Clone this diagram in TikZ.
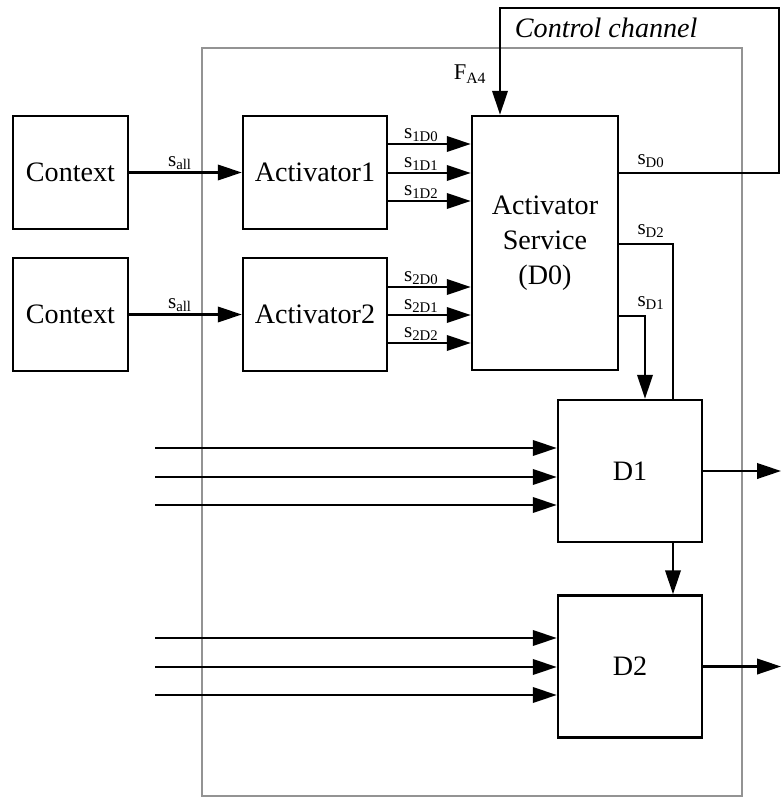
\documentclass[tikz,border=0pt]{standalone}
\usepackage{fontspec}
\setmainfont{Liberation Serif}
\usetikzlibrary{arrows.meta}

\begin{document}
\begin{tikzpicture}[x=0.025cm,y=-0.025cm,
  blk/.style={draw,line width=1.8pt,inner sep=0pt,align=center,font=\fontsize{20}{25}\selectfont},
  sig/.style={line width=1.6pt,-{Triangle[length=17pt,width=11pt]}},
  wire/.style={line width=1.6pt},
  lbl/.style={inner sep=1pt,font=\fontsize{15}{18}\selectfont}]
  \useasboundingbox (0,0) rectangle (781,800);
  \draw[gray!85,line width=1.4pt] (202,48) rectangle (742,796);
  \node[blk,minimum width=2.875cm,minimum height=2.825cm] (ctx1) at (70.5,172.5) {Context};
  \node[blk,minimum width=2.875cm,minimum height=2.825cm] (ctx2) at (70.5,314.5) {Context};
  \node[blk,minimum width=3.6cm,minimum height=2.825cm] (act1) at (315,172.5) {Activator1};
  \node[blk,minimum width=3.6cm,minimum height=2.825cm] (act2) at (315,314.5) {Activator2};
  \node[blk,minimum width=3.65cm,minimum height=6.35cm] (svc) at (545,243) {Activator\\Service\\(D0)};
  \node[blk,minimum width=3.6cm,minimum height=3.55cm] (d1) at (630,471) {D1};
  \node[blk,minimum width=3.6cm,minimum height=3.55cm] (d2) at (630,666.5) {D2};
  \node[anchor=west,font=\fontsize{20}{24}\selectfont\itshape] (ctl) at (510,28) {Control channel};
  \node[font=\fontsize{16}{19}\selectfont] (fa4) at (470,74) {F\textsubscript{A4}};
  \draw[sig] (ctx1) -- node[lbl,above,pos=0.45] {s\textsubscript{all}} (act1);
  \draw[sig] (ctx2) -- node[lbl,above,pos=0.45] {s\textsubscript{all}} (act2);
  \foreach \k/\y in {0/144,1/173,2/201}
    \draw[sig] (act1.east |- 0,\y) -- node[lbl,above,pos=0.4] {s\textsubscript{1D\k}} (svc.west |- 0,\y);
  \foreach \k/\y in {0/287,1/315,2/343}
    \draw[sig] (act2.east |- 0,\y) -- node[lbl,above,pos=0.4] {s\textsubscript{2D\k}} (svc.west |- 0,\y);
  \coordinate (loop) at (779,8);
  \draw[sig] (svc.east |- 0,173) -| (loop) -| (svc.north -| 500,0);
  \node[lbl] (sd0) at (651,161) {s\textsubscript{D0}};
  \draw[wire] (svc.east |- 0,244) -- (673,244) -- (d1.north -| 673,0);
  \node[lbl] (sd2) at (651,231) {s\textsubscript{D2}};
  \draw[sig] (svc.east |- 0,316) -- (645,316) -- (d1.north -| 645,0);
  \node[lbl] (sd1) at (651,303) {s\textsubscript{D1}};
  \foreach \y in {448,477,505} {
    \coordinate (in\y) at (155,\y);
    \draw[sig] (in\y) -- (d1.west |- in\y);
  }
  \foreach \y in {638,667,695} {
    \coordinate (in\y) at (155,\y);
    \draw[sig] (in\y) -- (d2.west |- in\y);
  }
  \coordinate (out1) at (781,471);
  \coordinate (out2) at (781,666.5);
  \draw[sig] (d1) -- (out1);
  \draw[sig] (d2) -- (out2);
  \draw[sig] (d1.south -| 673,0) -- (d2.north -| 673,0);
\end{tikzpicture}
\end{document}
